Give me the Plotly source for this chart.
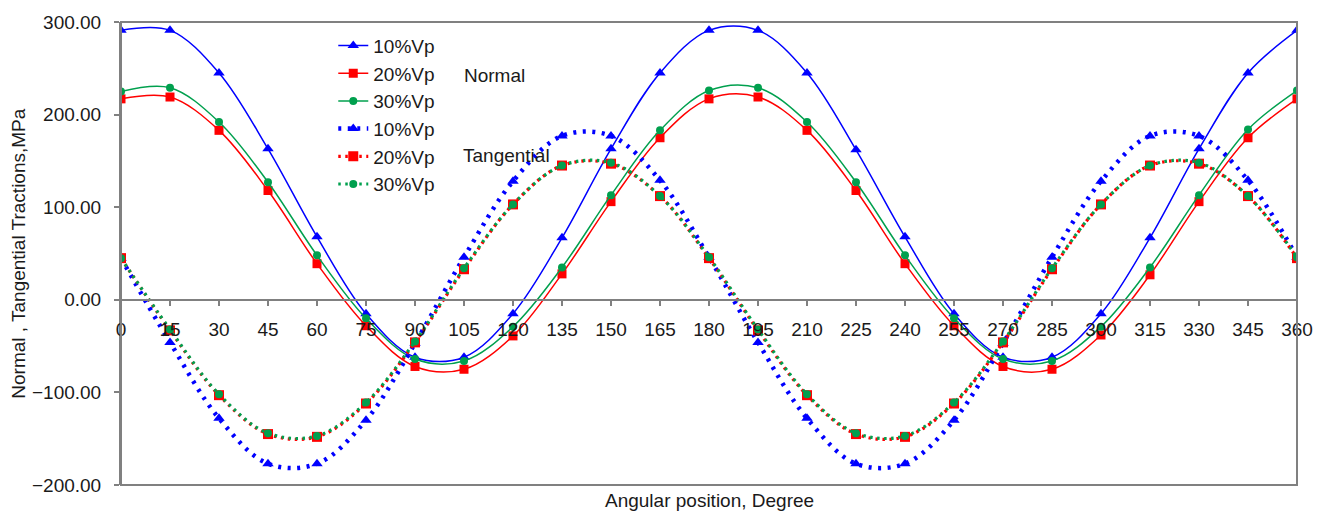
import plotly.graph_objects as go

angles = [0, 15, 30, 45, 60, 75, 90, 105, 120, 135, 150, 165, 180,
          195, 210, 225, 240, 255, 270, 285, 300, 315, 330, 345, 360]

normal_10 = [291, 291, 245, 163, 68, -15, -62, -62, -15, 67, 163, 245, 291,
             291, 245, 162, 68, -15, -62, -62, -15, 67, 163, 245, 291]
normal_20 = [217, 219, 183, 118, 39, -28, -72, -75, -39, 28, 106, 175, 217,
             219, 183, 118, 39, -28, -72, -75, -38, 27, 106, 175, 217]
normal_30 = [225, 229, 192, 127, 48, -20, -64, -66, -29, 35, 113, 183, 226,
             229, 192, 127, 48, -20, -64, -66, -29, 35, 113, 184, 226]

tang_10 = [45, -46, -128, -177, -177, -130, -47, 46, 128, 177, 177, 129, 46,
           -46, -128, -177, -177, -130, -47, 46, 128, 177, 177, 129, 46]
tang_20 = [45, -33, -103, -145, -148, -112, -46, 33, 103, 145, 147, 112, 45,
           -33, -103, -145, -148, -112, -46, 33, 103, 145, 147, 112, 45]
tang_30 = [45, -32, -102, -144, -147, -111, -45, 34, 103, 145, 148, 112, 46,
           -32, -102, -144, -147, -111, -45, 34, 103, 145, 148, 112, 46]

labels = ["10%Vp", "20%Vp", "30%Vp"]
x_ticks = angles
y_ticks = [-200, -100, 0, 100, 200, 300]

BLUE = "#0000FF"
RED = "#FF0000"
GREEN = "#00A04E"
FONT = "Liberation Sans, Arial, sans-serif"
TXT = "#1a1a1a"
FS = 19

fig = go.Figure()

solid = [(normal_10, BLUE, "triangle-up", 10),
         (normal_20, RED, "square", 9),
         (normal_30, GREEN, "circle", 8)]
for i, (vals, col, sym, ms) in enumerate(solid):
    fig.add_trace(go.Scatter(
        x=angles, y=vals, name=labels[i], mode="lines+markers",
        line=dict(color=col, width=1.5, shape="spline", smoothing=1.0),
        marker=dict(symbol=sym, size=ms, color=col),
        legendgroup="n%d" % i,
    ))

dotted = [(tang_10, BLUE, "triangle-up", 10, 4.5, "3px,6.5px"),
          (tang_20, RED, "square", 10, 3.2, "2.5px,4.5px"),
          (tang_30, GREEN, "circle", 8, 3.2, "2.5px,4.5px")]
for i, (vals, col, sym, ms, lw, dash) in enumerate(dotted):
    fig.add_trace(go.Scatter(
        x=angles, y=vals, name=labels[i], mode="lines+markers",
        line=dict(color=col, width=lw, dash=dash, shape="spline", smoothing=1.0),
        marker=dict(symbol=sym, size=ms, color=col),
        legendgroup="t%d" % i,
    ))

# plot box
fig.add_shape(type="rect", xref="paper", yref="paper", x0=0, x1=1, y0=0, y1=1,
              line=dict(color="#808080", width=2), layer="above")

fig.add_annotation(text="Normal", xref="x", yref="y", x=114.2, y=242,
                   showarrow=False, font=dict(family=FONT, size=FS, color=TXT))
fig.add_annotation(text="Tangential", xref="x", yref="y", x=117.9, y=156,
                   showarrow=False, font=dict(family=FONT, size=FS, color=TXT))
fig.add_annotation(text="Angular position, Degree", xref="paper", yref="paper",
                   x=0.5, y=-0.033, xanchor="center", yanchor="middle",
                   showarrow=False, font=dict(family=FONT, size=FS, color=TXT))
fig.add_annotation(text="Normal , Tangential Tractions,MPa", xref="paper", yref="paper",
                   x=-0.0874, y=0.50, xanchor="center", yanchor="middle", textangle=-90,
                   showarrow=False, font=dict(family=FONT, size=FS, color=TXT))

fig.update_layout(
    width=1325, height=512,
    margin=dict(l=121, r=25, t=18, b=27),
    paper_bgcolor="white", plot_bgcolor="white",
    font=dict(family=FONT, size=FS, color=TXT),
    showlegend=True,
    legend=dict(x=0.1805, y=0.99, xanchor="left", yanchor="top",
                bgcolor="rgba(255,255,255,0)", tracegroupgap=0,
                font=dict(family=FONT, size=FS, color=TXT)),
    xaxis=dict(range=[0, 360], tickvals=x_ticks, ticktext=[str(v) for v in x_ticks],
               anchor="free", position=0.4, showline=True, linecolor="#808080",
               linewidth=2, ticks="outside", ticklen=5, tickcolor="#808080",
               tickwidth=1.5, showgrid=False, zeroline=False, ticklabelstandoff=7,
               tickfont=dict(family=FONT, size=FS, color=TXT)),
    yaxis=dict(range=[-200, 300], tickvals=y_ticks, tickformat=".2f",
               showline=True, linecolor="#808080", linewidth=2, ticks="outside",
               ticklen=5, tickcolor="#808080", tickwidth=1.5, showgrid=False,
               zeroline=False, ticklabelstandoff=9,
               tickfont=dict(family=FONT, size=FS, color=TXT)),
)

fig.write_html("out.html", config={"displayModeBar": False},
               post_script="document.body.style.margin='0';document.body.style.overflow='hidden';")
